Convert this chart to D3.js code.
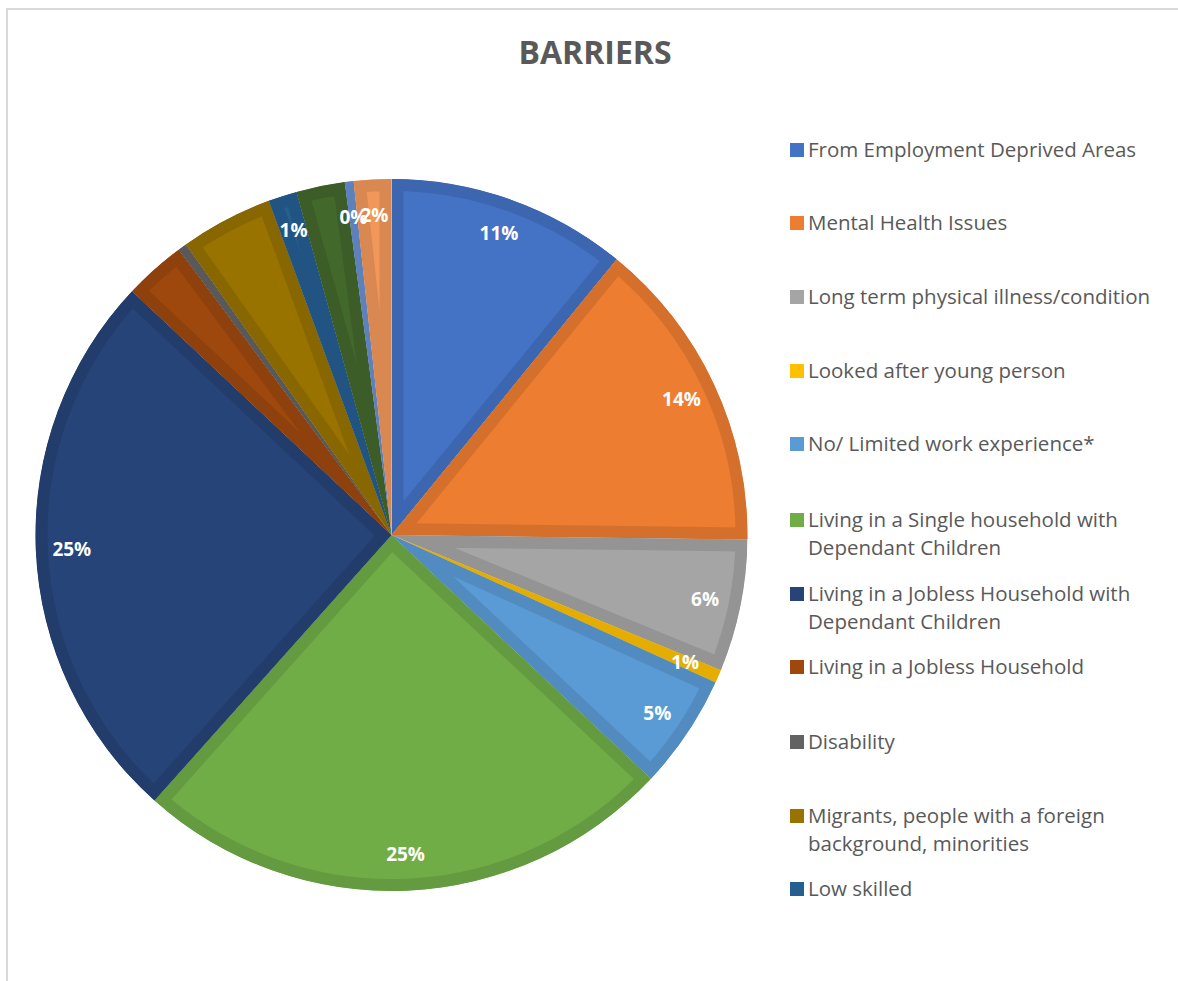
<!DOCTYPE html>
<html><head><meta charset="utf-8">
<script src="https://cdn.jsdelivr.net/npm/d3@7"></script>
<style>body{margin:0;background:#fff}svg{display:block}</style>
</head><body>
<svg id="chart" width="1178" height="981"></svg>
<script>
const categories = [
  "From Employment Deprived Areas",
  "Mental Health Issues",
  "Long term physical illness/condition",
  "Looked after young person",
  "No/ Limited work experience*",
  "Living in a Single household with Dependant Children",
  "Living in a Jobless Household with Dependant Children",
  "Living in a Jobless Household",
  "Disability",
  "Migrants, people with a foreign background, minorities",
  "Low skilled",
  "Other 1",
  "Other 2",
  "Other 3"
];
const values = [10.9, 14.3, 6.0, 0.6, 5.2, 24.6, 25.4, 2.8, 0.4, 4.2, 1.3, 2.2, 0.4, 1.7];
const showLabel = [1,1,1,1,1,1,1,0,0,0,1,0,1,1];
const colors = ["#4472C4","#ED7D31","#A5A5A5","#FFC000","#5B9BD5","#70AD47",
                "#264478","#9E480E","#636363","#997300","#255E91","#43682B","#698ED0","#F1975A"];
const legendLines = [
  ["From Employment Deprived Areas"],
  ["Mental Health Issues"],
  ["Long term physical illness/condition"],
  ["Looked after young person"],
  ["No/ Limited work experience*"],
  ["Living in a Single household with","Dependant Children"],
  ["Living in a Jobless Household with","Dependant Children"],
  ["Living in a Jobless Household"],
  ["Disability"],
  ["Migrants, people with a foreign","background, minorities"],
  ["Low skilled"]
];
const legendY = [150, 223, 297, 371, 444, 520, 594, 667, 742, 816, 889];

const svg = d3.select("#chart");
// frame
svg.append("rect").attr("x",7).attr("y",9).attr("width",1200).attr("height",1200)
  .attr("fill","none").attr("stroke","#d9d9d9").attr("stroke-width",2);

svg.append("text").attr("x",595).attr("y",64).attr("text-anchor","middle")
  .attr("font-family","'Open Sans', sans-serif").attr("font-weight","bold")
  .attr("font-size",32).attr("fill","#595959").text("BARRIERS");

const cx = 391.5, cy = 535, R = 356;
const total = d3.sum(values);
const pie = d3.pie().sort(null).value(d => d)(values);
const arc = d3.arc().innerRadius(0).outerRadius(R);
const g = svg.append("g").attr("transform",`translate(${cx},${cy})`);
const defs = svg.append("defs");

pie.forEach((p,i) => {
  const dPath = arc(p);
  defs.append("clipPath").attr("id","clip"+i).append("path").attr("d",dPath);
  g.append("path").attr("d",dPath).attr("fill",colors[i])
    .attr("stroke",d3.color(colors[i]).darker(0.3)).attr("stroke-width",24)
    .attr("stroke-linejoin","miter")
    .attr("clip-path",`url(#clip${i})`);
});

const fmt = d3.format(".0%");
const labelArc = d3.arc().innerRadius(320).outerRadius(320);
pie.forEach((p,i) => {
  if (!showLabel[i]) return;
  const [x,y] = labelArc.centroid(p);
  g.append("text").attr("x",x).attr("y",y).attr("dy","0.35em")
    .attr("text-anchor","middle")
    .attr("font-family","'Open Sans', sans-serif").attr("font-weight","bold")
    .attr("font-size",19).attr("fill","#fff")
    .text(fmt(values[i]/total));
});

const lg = svg.append("g");
legendLines.forEach((lines,i) => {
  const y = legendY[i];
  lg.append("rect").attr("x",790).attr("y",y-7).attr("width",14).attr("height",14)
    .attr("fill",colors[i]);
  lines.forEach((t,j) => {
    lg.append("text").attr("x",808).attr("y",y+7+j*28)
      .attr("font-family","'Open Sans', sans-serif").attr("font-size",20.5)
      .attr("fill","#595959").text(t);
  });
});
</script>
</body></html>
